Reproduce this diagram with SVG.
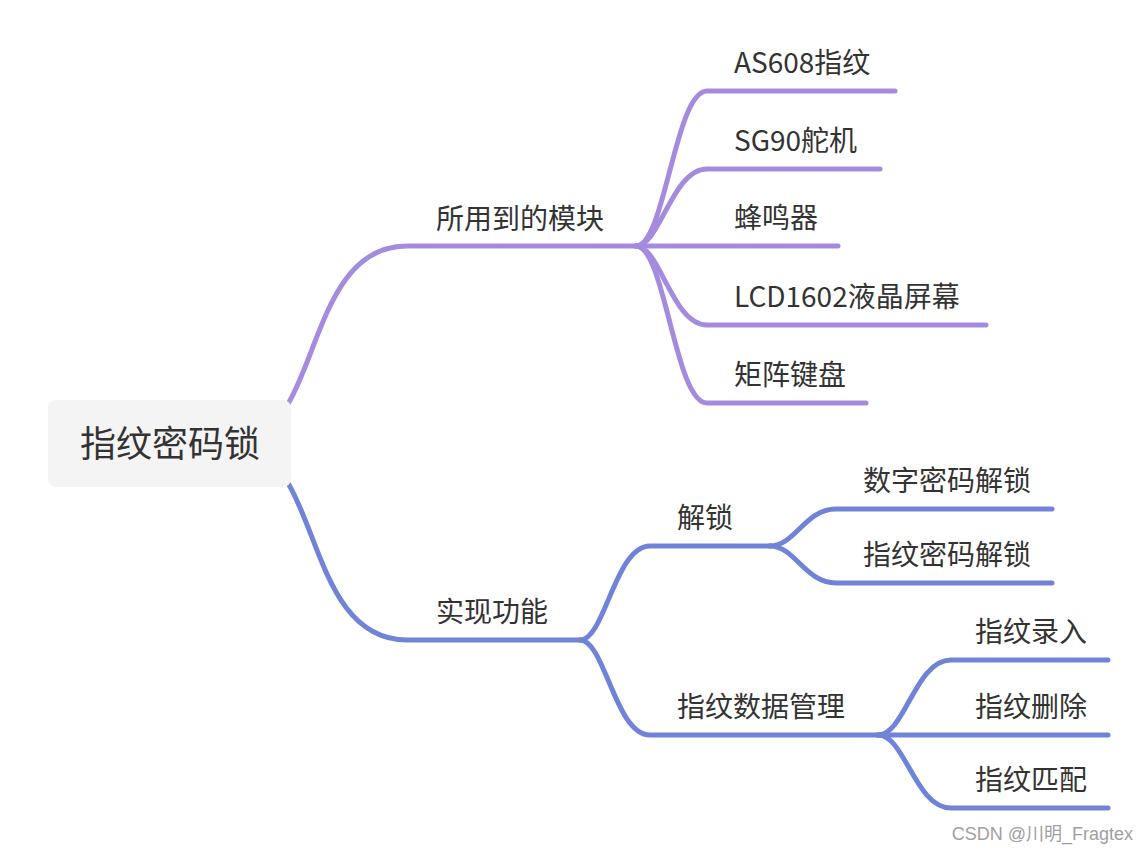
<svg xmlns="http://www.w3.org/2000/svg" width="1147" height="853" viewBox="0 0 1147 853">
<style>
.t{font-family:"Noto Sans CJK SC","Noto Sans",sans-serif;font-size:28px;fill:#333}
.root{font-size:36px}
.lp{fill:none;stroke:#a58bde;stroke-width:5;stroke-linecap:round}
.lb{fill:none;stroke:#7083d8;stroke-width:5;stroke-linecap:round}
.wm{font-family:"Liberation Sans","Noto Sans CJK SC",sans-serif;font-size:18px;fill:#a0a0a0}
</style>
<rect width="1147" height="853" fill="#fff"/>
<g id="connectors">
<path class="lp" d="M288 404 C320 350 330 246 407 246 L636 246"/>
<path class="lp" d="M636 246 C665 246 675 91 707 91 L895 91"/>
<path class="lp" d="M636 246 C660 246 672 169 707 169 L880 169"/>
<path class="lp" d="M636 246 L838 246"/>
<path class="lp" d="M636 246 C660 246 672 325 707 325 L986 325"/>
<path class="lp" d="M636 246 C665 246 675 403 707 403 L866 403"/>
<path class="lb" d="M288 483 C320 537 330 640 407 640 L580 640"/>
<path class="lb" d="M580 640 C605 640 615 546 650 546 L770 546"/>
<path class="lb" d="M580 640 C605 640 615 735 650 735 L878 735"/>
<path class="lb" d="M770 546 C795 546 805 509 836 509 L1052 509"/>
<path class="lb" d="M770 546 C795 546 805 583 836 583 L1052 583"/>
<path class="lb" d="M878 735 C905 735 915 660 951 660 L1108 660"/>
<path class="lb" d="M878 735 L1108 735"/>
<path class="lb" d="M878 735 C905 735 915 808 951 808 L1108 808"/>
</g>
<g id="root">
<rect x="48" y="400" width="243" height="87" rx="8" fill="#f4f4f4"/>
<text class="t root" x="170" y="457" text-anchor="middle">指纹密码锁</text>
</g>
<g id="n-modules"><text class="t" x="436" y="229">所用到的模块</text></g>
<g id="n-as608"><text class="t" x="734" y="73">AS608指纹</text></g>
<g id="n-sg90"><text class="t" x="734" y="151">SG90舵机</text></g>
<g id="n-buzzer"><text class="t" x="734" y="228">蜂鸣器</text></g>
<g id="n-lcd"><text class="t" x="734" y="307">LCD1602液晶屏幕</text></g>
<g id="n-keypad"><text class="t" x="734" y="385">矩阵键盘</text></g>
<g id="n-func"><text class="t" x="436" y="622">实现功能</text></g>
<g id="n-unlock"><text class="t" x="677" y="528">解锁</text></g>
<g id="n-numpw"><text class="t" x="863" y="491">数字密码解锁</text></g>
<g id="n-fppw"><text class="t" x="863" y="565">指纹密码解锁</text></g>
<g id="n-fpmgr"><text class="t" x="677" y="717">指纹数据管理</text></g>
<g id="n-enroll"><text class="t" x="975" y="642">指纹录入</text></g>
<g id="n-delete"><text class="t" x="975" y="717">指纹删除</text></g>
<g id="n-match"><text class="t" x="975" y="790">指纹匹配</text></g>
<text class="wm" x="1133" y="840" text-anchor="end">CSDN @川明_Fragtex</text>
</svg>
